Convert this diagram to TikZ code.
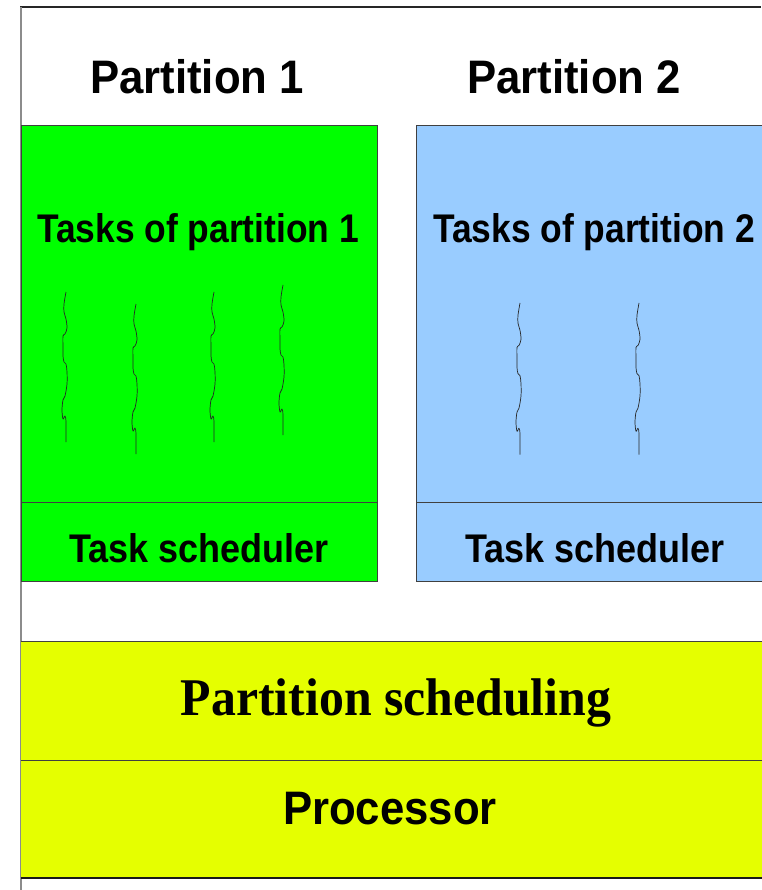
\documentclass[tikz,border=0pt]{standalone}
\usepackage{graphicx}
\usepackage{fontspec}
\setmainfont{Liberation Sans}
\newfontfamily\serifbold{Liberation Serif}
\newcommand{\narrowtext}[3]{\scalebox{#2}[1]{\fontsize{#1}{#1}\selectfont\bfseries #3}}
\begin{document}
\begin{tikzpicture}[x=1pt,y=-1pt,
  frame/.style={draw=black!75, line width=1pt},
  label/.style={inner sep=0pt, anchor=center},
  thread/.style={draw=black!85, line width=0.7pt, line join=round}
]
\useasboundingbox (0,0) rectangle (761,890);

% outer frame: top rule and grey left edge
\draw[black!85, line width=1.2pt] (20,7) -- (761,7);
\draw[black!45, line width=2pt] (20.5,7) -- (20.5,890);

% partition boxes
\path[fill={rgb,255:red,0;green,255;blue,0}, frame] (21,126) rectangle (377,581);
\draw[frame] (21,502) -- (377,502);
\path[fill={rgb,255:red,153;green,204;blue,255}, frame] (416,581) -- (416,126) -- (763,126) -- (763,581) -- cycle;
\draw[frame] (416,502) -- (763,502);

% partition scheduling and processor layers
\path[fill={rgb,255:red,229;green,255;blue,0}] (21,641) rectangle (763,878);
\draw[frame] (21,641) -- (763,641);
\draw[frame] (21,760) -- (763,760);
\draw[black!90, line width=1.2pt] (21,878) -- (763,878);

% headings
\node[label] (p1) at (197,77) {\narrowtext{47}{0.93}{Partition 1}};
\node[label] (p2) at (574,77) {\narrowtext{47}{0.93}{Partition 2}};
\node[label] (t1) at (198,232) {\narrowtext{40}{0.885}{Tasks of partition 1}};
\node[label] (t2) at (594,232) {\narrowtext{40}{0.885}{Tasks of partition 2}};
\node[label] (s1) at (199,548) {\narrowtext{40}{0.9}{Task scheduler}};
\node[label] (s2) at (595,548) {\narrowtext{40}{0.9}{Task scheduler}};
\node[label] (ps) at (396,703) {\scalebox{0.94}[1]{\serifbold\bfseries\fontsize{53}{53}\selectfont Partition scheduling}};
\node[label] (pr) at (390,809) {\narrowtext{47}{0.93}{Processor}};

% task threads
\newcommand{\taskthread}[3]{%
  \begin{scope}[shift={(#1,#2)}, yscale=#3]
    \draw[thread] plot[smooth, tension=0.55] coordinates {
      (2,0) (0,12) (0,20) (2,27) (3,36) (1,42) (-1,44) (-1,56) (-1,64)
      (0,70) (2,72) (3,80) (3,92) (1,104) (-1,108) (-2,118) (-1,127)
      (1,124) (2,130) (2,150)};
  \end{scope}}
\taskthread{64}{292}{1}
\taskthread{134}{304}{1}
\taskthread{212}{292}{1}
\taskthread{281}{285}{1}
\taskthread{518}{303}{1.01}
\taskthread{637}{303}{1.01}
\end{tikzpicture}
\end{document}
